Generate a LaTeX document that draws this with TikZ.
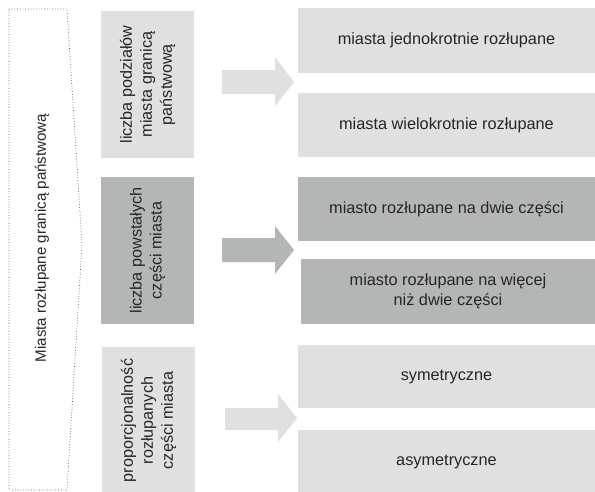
\documentclass[tikz,border=0pt]{standalone}
\usepackage{fontspec}
\setmainfont{Liberation Sans}
\definecolor{lightbox}{HTML}{E0E0E0}
\definecolor{darkbox}{HTML}{B4B6B6}
\definecolor{txt}{HTML}{262626}
\definecolor{dotline}{HTML}{555555}
\begin{document}
\begin{tikzpicture}[x=1pt,y=-1pt,
  every node/.style={inner sep=0pt, outer sep=0pt, text=txt},
  rbox/.style={rectangle, minimum width=297pt, minimum height=64pt, font=\fontsize{16.3}{20}\selectfont, align=center},
  mbox/.style={rectangle, rotate=90, minimum width=147pt, minimum height=93pt, font=\fontsize{16.2}{20}\selectfont, align=center},
  light/.style={fill=lightbox},
  dark/.style={fill=darkbox},
  outline/.style={draw=dotline, dotted, line width=0.7pt}
]
\clip (0,0) rectangle (595,491);
\fill[white] (0,0) rectangle (595,491);

% left pentagon
\coordinate (p1) at (9,9);
\coordinate (p2) at (67,9);
\coordinate (p3) at (82,245);
\coordinate (p4) at (67,490);
\coordinate (p5) at (9,490);
\draw[outline] (p1) -- (p2) -- (p3) -- (p4) -- (p5) -- cycle;
\node[rotate=90, font=\fontsize{15.1}{18}\selectfont] (main) at (42,238) {Miasta rozłupane granicą państwową};

% middle boxes
\node[mbox, light] (m1) at (147.5,84.5) {liczba podziałów\\miasta granicą\\państwową};
\node[mbox, dark] (m2) at (147.5,250.5) {liczba powstałych\\części miasta};
\node[mbox, light] (m3) at (148.5,420.5) {proporcjonalność\\rozłupanych\\części miasta};

% arrows
\fill[lightbox] (222,70) -- (275,70) -- (275,57) -- (294,82) -- (275,106) -- (275,94) -- (222,94) -- cycle;
\fill[darkbox] (222,238) -- (275,238) -- (275,226) -- (294,250) -- (275,274) -- (275,262) -- (222,262) -- cycle;
\fill[lightbox] (225,408) -- (278,408) -- (278,394) -- (297,418) -- (278,442) -- (278,430) -- (225,430) -- cycle;

% right boxes
\node[rbox, light, minimum height=65pt] (r1) at (446.5,40.5) {miasta jednokrotnie rozłupane};
\node[rbox, light] (r2) at (446.5,125) {miasta wielokrotnie rozłupane};
\node[rbox, dark] (r3) at (446.5,209) {miasto rozłupane na dwie części};
\node[rbox, dark, minimum width=294pt, minimum height=65pt] (r4) at (448,291.5) {miasto rozłupane na więcej\\niż dwie części};
\node[rbox, light, minimum height=63pt] (r5) at (446.5,376.5) {symetryczne};
\node[rbox, light] (r6) at (446.5,462) {asymetryczne};
\end{tikzpicture}
\end{document}
